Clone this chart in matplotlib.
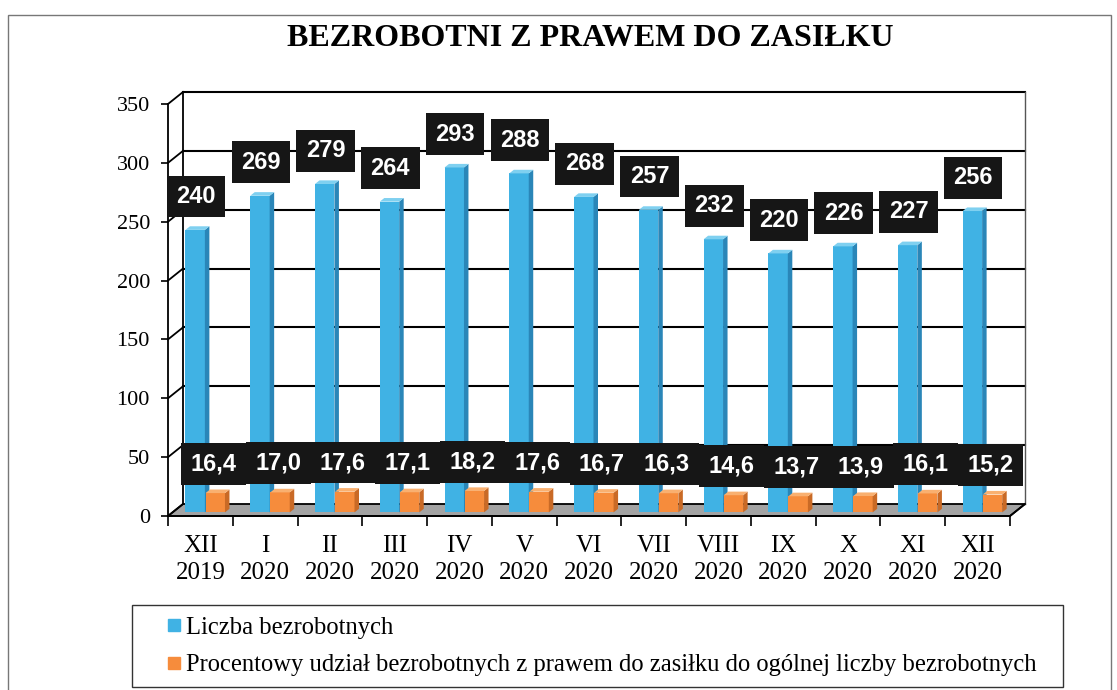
import matplotlib.pyplot as plt
from matplotlib.patches import Polygon, Rectangle
from matplotlib.lines import Line2D

# data
months = ['XII\n2019', 'I\n2020', 'II\n2020', 'III\n2020', 'IV\n2020', 'V\n2020', 'VI\n2020',
          'VII\n2020', 'VIII\n2020', 'IX\n2020', 'X\n2020', 'XI\n2020', 'XII\n2020']
liczba = [240, 269, 279, 264, 293, 288, 268, 257, 232, 220, 226, 227, 256]
procent = [16.4, 17.0, 17.6, 17.1, 18.2, 17.6, 16.7, 16.3, 14.6, 13.7, 13.9, 16.1, 15.2]
yticks = [0, 50, 100, 150, 200, 250, 300, 350]

title = 'BEZROBOTNI Z PRAWEM DO ZASIŁKU'
leg_labels = ['Liczba bezrobotnych',
              'Procentowy udział bezrobotnych z prawem do zasiłku do ogólnej liczby bezrobotnych']

serif = 'Liberation Serif'
sans = 'Liberation Sans'

W, H = 1117, 690
fig = plt.figure(figsize=(W / 100, H / 100), dpi=100)

# front plot area (pixels -> figure fraction)
x0, x1, ytop, ybot = 168, 1010, 104, 516
ax = fig.add_axes([x0 / W, 1 - ybot / H, (x1 - x0) / W, (ybot - ytop) / H])
n = len(months)
ax.set_xlim(-0.5, n - 0.5)
ax.set_ylim(0, 350)

# depth of the fake 3d box, in data units
DX = 15 / ((x1 - x0) / n)
DY = 12 / ((ybot - ytop) / 350)

for s in ['top', 'right']:
    ax.spines[s].set_visible(False)
ax.spines['left'].set_linewidth(1.3)
ax.spines['bottom'].set_linewidth(1.3)

# floor
floor = Polygon([(-0.5, 0), (n - 0.5, 0), (n - 0.5 + DX, DY), (-0.5 + DX, DY)],
                closed=True, facecolor='#a3a3a3', edgecolor='black', lw=1.3, clip_on=False, zorder=1)
ax.add_patch(floor)

# back wall gridlines + side wall diagonals
for v in yticks:
    if v > 0:
        ax.plot([-0.5 + DX, n - 0.5 + DX], [v + DY, v + DY], color='black', lw=1.5, clip_on=False, zorder=1)
    ax.plot([-0.5, -0.5 + DX], [v, v + DY], color='black', lw=1.3, clip_on=False, zorder=1)
ax.plot([-0.5 + DX, -0.5 + DX], [DY, 350 + DY], color='black', lw=1.3, clip_on=False, zorder=1)
ax.plot([n - 0.5 + DX, n - 0.5 + DX], [DY, 350 + DY], color='#555555', lw=1.0, clip_on=False, zorder=1)
ax.plot([n - 0.5, n - 0.5 + DX], [0, DY], color='black', lw=1.3, clip_on=False, zorder=1)


def bar3d(xc, val, w, front, side, top, f=0.3, t=0.3):
    bx = xc - w / 2 + f * DX
    by = f * DY
    ax.add_patch(Rectangle((bx, by), w, val, facecolor=front, edgecolor='none', clip_on=False, zorder=3))
    ax.add_patch(Polygon([(bx + w, by), (bx + w, by + val), (bx + w + t * DX, by + val + t * DY),
                          (bx + w + t * DX, by + t * DY)], closed=True, facecolor=side,
                         edgecolor='none', clip_on=False, zorder=3))
    ax.add_patch(Polygon([(bx, by + val), (bx + w, by + val), (bx + w + t * DX, by + val + t * DY),
                          (bx + t * DX, by + val + t * DY)], closed=True, facecolor=top,
                         edgecolor='none', clip_on=False, zorder=3))
    return bx + w / 2 + t * DX / 2, by + val


bw = 0.3
for i in range(n):
    bxc, btop = bar3d(i - 0.15, liczba[i], bw, '#40b2e4', '#2a86b8', '#7fd0f0')
    oxc, otop = bar3d(i + 0.16, procent[i], bw, '#f68c3c', '#c96a26', '#f9b070')
    ax.annotate('%d' % liczba[i], (bxc, btop), xytext=(-1, 24), textcoords='offset points',
                ha='center', va='center', color='white', fontsize=17, fontweight='bold',
                family=sans, zorder=5, annotation_clip=False,
                bbox=dict(boxstyle='square,pad=0.4', fc='#161616', ec='none'))
    ax.annotate(('%.1f' % procent[i]).replace('.', ','), (oxc, otop), xytext=(-3, 21),
                textcoords='offset points', ha='center', va='center', color='white', fontsize=17,
                fontweight='bold', family=sans, zorder=5, annotation_clip=False,
                bbox=dict(boxstyle='square,pad=0.4', fc='#161616', ec='none'))

# axes ticks
ax.set_yticks(yticks)
ax.set_yticklabels([str(v) for v in yticks], family=serif, fontsize=16)
ax.tick_params(axis='y', direction='out', length=5, width=1.2, pad=8)
ax.set_xticks([i - 0.5 for i in range(n + 1)])
ax.set_xticklabels([''] * (n + 1))
ax.tick_params(axis='x', which='major', direction='out', length=7, width=1.2)
ax.set_xticks(range(n), minor=True)
ax.set_xticklabels(months, minor=True, family=serif, fontsize=18, linespacing=1.25)
ax.tick_params(axis='x', which='minor', length=0, pad=14)

# title
fig.text(0.528, 1 - 38 / H, title, ha='center', va='center', family=serif,
         fontsize=23, fontweight='bold')

# legend (frame drawn separately so it can be wider than the entries)
handles = [Line2D([], [], marker='s', ls='none', markersize=8, color='#40b2e4'),
           Line2D([], [], marker='s', ls='none', markersize=8, color='#f68c3c')]
leg = fig.legend(handles, leg_labels, loc='upper left',
                 bbox_to_anchor=(158 / W, 1 - 608 / H),
                 frameon=False, prop={'family': serif, 'size': 17.7},
                 handlelength=0.6, handletextpad=0.2, labelspacing=0.62, borderpad=0.35,
                 borderaxespad=0)
fig.add_artist(Rectangle((132 / W, 1 - 687 / H), (1063 - 132) / W, (687 - 605) / H,
                         transform=fig.transFigure, fill=False, edgecolor='#333333', lw=1.0))

# outer frame
fig.add_artist(Rectangle((8 / W, -0.01), (1111 - 8) / W, 1 - 15 / H + 0.01, transform=fig.transFigure,
                         fill=False, edgecolor='#777777', lw=1.0))

fig.savefig('out.png', dpi=100)
